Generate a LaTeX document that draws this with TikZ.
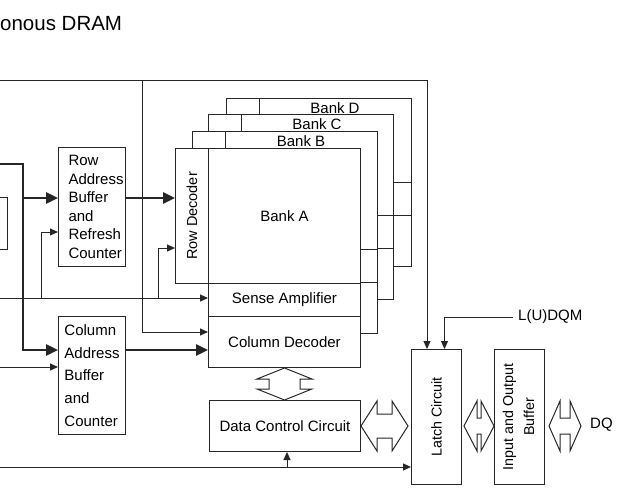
\documentclass[tikz,border=0pt]{standalone}
\usepackage{fontspec}
\setmainfont{Liberation Sans}
\usetikzlibrary{
    arrows.meta,
    calc,
    positioning
}
\colorlet{ink}{black!85}
\tikzstyle{block} = [
    rectangle,
    draw=ink,
    fill=white,
    line width=1pt,
    inner sep=0pt,
    align=center,
    font=\fontsize{15}{18}\selectfont
]
\tikzstyle{tag} = [
    inner sep=0pt,
    font=\fontsize{15}{18}\selectfont
]
\tikzstyle{wire} = [
    draw=ink,
    line width=1pt
]
\tikzstyle{sig} = [
    draw=ink,
    line width=1pt,
    -{Triangle[length=8pt,width=7pt]}
]
\tikzstyle{bus} = [
    draw=ink,
    line width=2.5pt,
    -{Triangle[length=12pt,width=11pt]}
]
\tikzstyle{hollow} = [
    draw=ink,
    fill=white,
    line width=1pt,
    line join=miter
]
% hollow double arrows: from, to, head length, shaft half size
\newcommand{\hbus}[4]{%
  \draw[hollow] let \p1=#1, \p2=#2 in
    (\x1,\y1) -- (\x1+#3,\y1+25pt) -- (\x1+#3,\y1+#4) -- (\x2-#3,\y1+#4)
    -- (\x2-#3,\y1+25pt) -- (\x2,\y1) -- (\x2-#3,\y1-25pt) -- (\x2-#3,\y1-#4)
    -- (\x1+#3,\y1-#4) -- (\x1+#3,\y1-25pt) -- cycle;}
\newcommand{\vbus}[4]{%
  \draw[hollow] let \p1=#1, \p2=#2 in
    (\x1,\y1) -- (\x1+27.5pt,\y1-#3) -- (\x1+#4,\y1-#3) -- (\x1+#4,\y2+#3)
    -- (\x1+27.5pt,\y2+#3) -- (\x1,\y2) -- (\x1-27.5pt,\y2+#3) -- (\x1-#4,\y2+#3)
    -- (\x1-#4,\y1-#3) -- (\x1-27.5pt,\y1-#3) -- cycle;}

\begin{document}
\begin{tikzpicture}[x=1pt, y=-1pt]
    \useasboundingbox (0,0) rectangle (635,496);

    % Title
    \node[tag, anchor=base west, font=\fontsize{20.5}{24}\selectfont] (title) at (0,30) {onous DRAM};

    % Address buffers
    \node[block, anchor=north west, minimum width=67pt, minimum height=119pt,
          text width=47pt, inner xsep=10pt, align=left,
          font=\fontsize{15}{18.6}\selectfont] (rowbuf) at (58,147)
          {Row\\Address\\Buffer\\and\\Refresh\\Counter};
    \node[block, anchor=north west, minimum width=67pt, minimum height=118pt,
          align=left, font=\fontsize{15}{22.8}\selectfont] (colbuf) at (58,316)
          {Column\\Address\\Buffer\\and\\Counter};

    % Banks D, C, B (behind)
    \foreach \bx/\by/\bs/\bn in {226/98/182/D, 208/114/215/C, 192/131/249/B} {
        \draw[wire, fill=white] (\bx,\by) -- ({\bx+185},\by) -- ({\bx+185},{\bs+84})
            -- ({\bx+33},{\bs+84}) -- ({\bx+33},\bs) -- (\bx,\bs) -- cycle;
        \draw[wire] ({\bx+33},\by) -- ({\bx+33},\bs) -- ({\bx+185},\bs);
        \draw[wire] ({\bx+33},{\bs+33}) -- ({\bx+185},{\bs+33});
        \node[tag, anchor=base] (bank\bn) at ({\bx+109},{\by+15}) {Bank \bn};
    }

    % Bank A
    \node[block, anchor=north west, minimum width=33pt, minimum height=135pt,
          font=\fontsize{14.5}{17}\selectfont] (rowdec) at (175,148) {\rotatebox{90}{Row Decoder}};
    \node[block, anchor=north west, minimum width=152pt, minimum height=135pt] (bankA) at (208,148) {Bank A};
    \node[block, anchor=north west, minimum width=152pt, minimum height=33pt] (sense) at (208,283) {Sense Amplifier};
    \node[block, anchor=north west, minimum width=152pt, minimum height=51pt] (coldec) at (208,316) {Column Decoder};

    % Data path
    \node[block, anchor=north west, minimum width=151pt, minimum height=51pt] (dctrl) at (209,400) {Data Control Circuit};
    \node[block, anchor=north west, minimum width=50pt, minimum height=135pt,
          font=\fontsize{14.3}{17}\selectfont] (latch) at (411,349) {\rotatebox{90}{Latch Circuit}};
    \node[block, anchor=north west, minimum width=50pt, minimum height=135pt,
          font=\fontsize{14.3}{21}\selectfont] (iobuf) at (494,349)
          {\rotatebox{90}{\begin{tabular}{@{}c@{}}Input and Output\\Buffer\end{tabular}}};
    \node[tag, anchor=west] (dqm) at (518,317) {L(U)DQM};
    \node[tag, anchor=west] (dq) at (590,425) {DQ};

    % Left box (cut off)
    \draw[wire] (0,197) -- (7,197) -- (7,249) -- (0,249);

    % Frame from the top
    \coordinate (ftl) at (0,80);
    \coordinate (ftr) at (427,80);
    \coordinate (fcol) at (142,80);
    \draw[sig] (ftl) -- (ftr) -- (ftr |- latch.north);
    \draw[sig] (fcol) |- (coldec.west |- 0,332);

    % Address bus
    \coordinate (abus) at (0,164);
    \coordinate (abend) at (23,164);
    \coordinate (abr) at (23,198);
    \draw[bus] (abus) -- (abend) |- (colbuf.west |- 0,350);
    \draw[bus] (abr) -- (rowbuf.west |- abr);
    \draw[bus] (rowbuf.east |- abr) -- (rowdec.west |- abr);
    \draw[bus] (colbuf.east |- 0,350) -- (coldec.west |- 0,350);

    % Control lines
    \coordinate (ras) at (0,298);
    \coordinate (r1) at (41,298);
    \coordinate (r2) at (158,298);
    \draw[sig] (ras) -- (sense.west |- ras);
    \draw[sig] (r1) |- (rowbuf.west |- 0,232);
    \draw[sig] (r2) |- (rowdec.west |- 0,248);
    \coordinate (cas) at (0,367);
    \draw[sig] (cas) -- (colbuf.west |- cas);
    \coordinate (clk) at (0,467);
    \coordinate (c1) at (287,467);
    \draw[sig] (clk) -- (latch.west |- clk);
    \draw[sig] (c1) -- (c1 |- dctrl.south);
    \draw[sig] ([xshift=-5pt]dqm.west) -| ([xshift=8pt]latch.north);

    % Data arrows
    \vbus{(coldec.south)}{(dctrl.north)}{11pt}{15.5pt}
    \hbus{(dctrl.east)}{([xshift=-3pt]latch.west)}{16pt}{12pt}
    \hbus{([xshift=2pt]latch.east |- dctrl.east)}{(iobuf.west)}{13pt}{8pt}
    \hbus{([xshift=4pt]iobuf.east |- dctrl.east)}{([xshift=-9pt]dq.west)}{11pt}{8pt}
\end{tikzpicture}
\end{document}
